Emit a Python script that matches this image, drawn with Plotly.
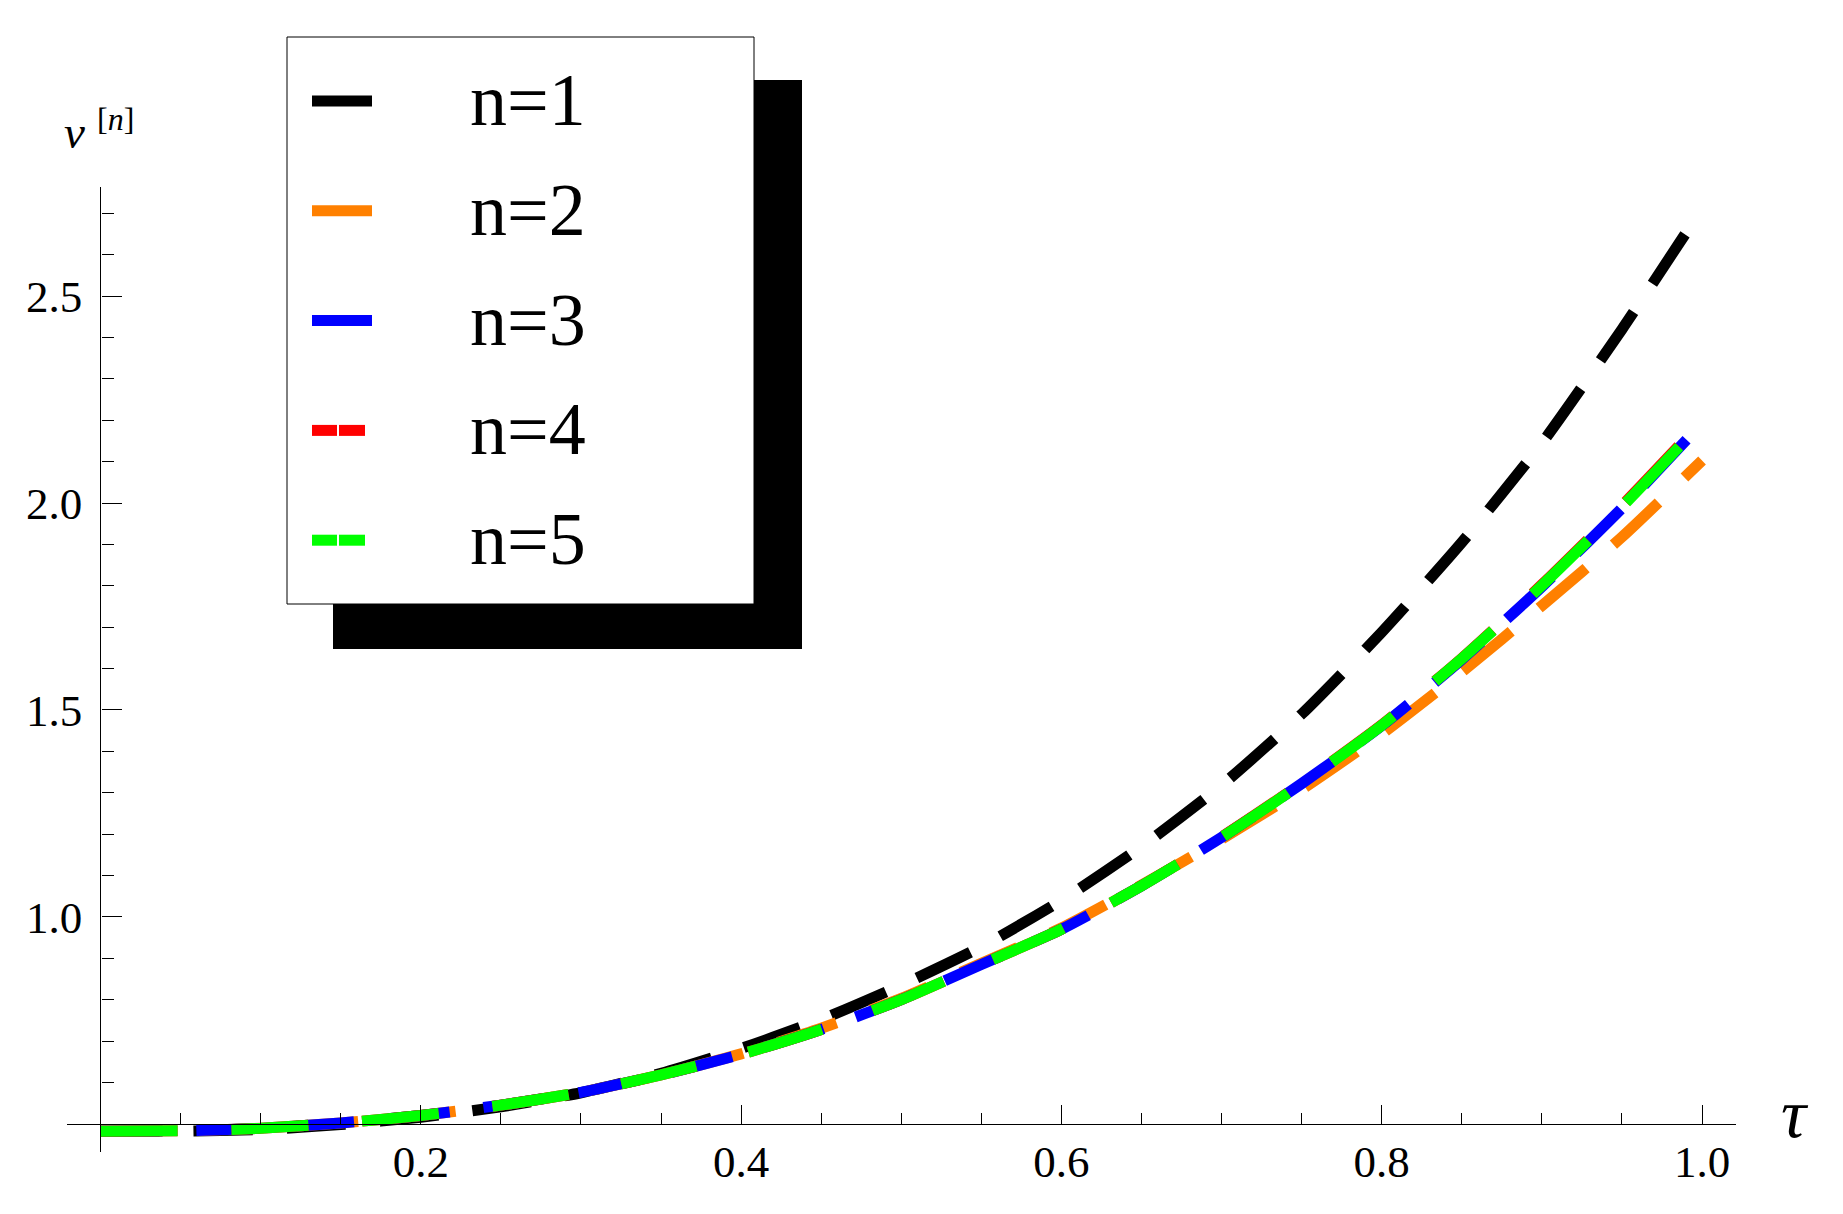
import plotly.graph_objects as go

# sample points
tau = [0.0, 0.05, 0.10, 0.15, 0.20, 0.25, 0.30, 0.35, 0.40, 0.45, 0.50,
       0.55, 0.60, 0.65, 0.70, 0.75, 0.80, 0.85, 0.90, 0.95, 1.00]

v_n1 = [0.482, 0.482, 0.486, 0.498, 0.516, 0.541, 0.575, 0.622, 0.682, 0.752, 0.835,
        0.928, 1.040, 1.170, 1.318, 1.490, 1.688, 1.905, 2.145, 2.420, 2.712]
v_n2 = [0.482, 0.483, 0.489, 0.502, 0.520, 0.545, 0.576, 0.618, 0.669, 0.731, 0.803,
        0.888, 0.973, 1.077, 1.188, 1.308, 1.442, 1.592, 1.752, 1.918, 2.103]
v_n3 = [0.482, 0.483, 0.489, 0.502, 0.520, 0.545, 0.576, 0.618, 0.668, 0.728, 0.800,
        0.885, 0.970, 1.075, 1.192, 1.322, 1.462, 1.622, 1.798, 1.988, 2.193]
v_n4 = [0.482, 0.483, 0.489, 0.502, 0.520, 0.545, 0.576, 0.618, 0.668, 0.728, 0.800,
        0.885, 0.970, 1.075, 1.193, 1.323, 1.464, 1.625, 1.803, 1.994, 2.198]
v_n5 = [0.482, 0.483, 0.489, 0.502, 0.520, 0.545, 0.576, 0.618, 0.668, 0.728, 0.800,
        0.885, 0.970, 1.075, 1.192, 1.322, 1.463, 1.624, 1.801, 1.991, 2.195]

series_names = ["n=1", "n=2", "n=3", "n=4", "n=5"]
series_values = [v_n1, v_n2, v_n3, v_n4, v_n5]
series_colors = ["#000000", "#ff8000", "#0000ff", "#ff0000", "#00ff00"]
series_dash = ["59px,34.2px", "62px,36px", "62px,34px", "77px,54px", "77px,54px"]
split_sample = [False, False, False, True, True]

x_tickvals = [0.2, 0.4, 0.6, 0.8, 1.0]
x_ticktext = ["0.2", "0.4", "0.6", "0.8", "1.0"]
x_minor = [0.05, 0.1, 0.15, 0.25, 0.3, 0.35, 0.45, 0.5, 0.55, 0.65, 0.7, 0.75, 0.85, 0.9, 0.95]
y_tickvals = [1.0, 1.5, 2.0, 2.5]
y_ticktext = ["1.0", "1.5", "2.0", "2.5"]
y_minor = [0.6, 0.7, 0.8, 0.9, 1.1, 1.2, 1.3, 1.4, 1.6, 1.7, 1.8, 1.9,
           2.1, 2.2, 2.3, 2.4, 2.6, 2.7]

X_RANGE = [-0.0209, 1.0212]
Y_RANGE = [0.4318, 2.7639]

#the page body adds 8px around the figure
OFF = 8
W, H = 1843 - OFF, 1214 - OFF
M_L, M_R, M_T, M_B = 59, 107, 179, 62
PW = W - M_L - M_R
PH = H - M_T - M_B

FONT = "'Liberation Serif', 'Times New Roman', Times, serif"


def px(x, y):
    """pixel position on the page -> paper coords"""
    return (x - OFF - M_L) / PW, (H - M_B - (y - OFF)) / PH


def label(x, y, text, size, xanchor="left"):
    ax, ay = px(x, y)
    return dict(x=ax, y=ay, xref="paper", yref="paper", xanchor=xanchor, yanchor="middle",
                text=text, showarrow=False, font=dict(family=FONT, size=size, color="black"))


fig = go.Figure()

for name, vals, color, dash in zip(series_names, series_values, series_colors, series_dash):
    fig.add_trace(go.Scatter(
        x=tau, y=vals,
        mode="lines",
        line=dict(color=color, width=11, dash=dash, shape="spline", smoothing=0.6),
        name=name,
        showlegend=False,
        hoverinfo="skip",
    ))

#legend box with drop shadow, drawn by hand
shapes = []
sx0, sy0 = px(333, 80)
sx1, sy1 = px(802, 649)
shapes.append(dict(type="rect", xref="paper", yref="paper", x0=sx0, y0=sy0, x1=sx1, y1=sy1,
                   fillcolor="black", line=dict(width=0), layer="above"))
bx0, by0 = px(287, 37)
bx1, by1 = px(754, 604)
shapes.append(dict(type="rect", xref="paper", yref="paper", x0=bx0, y0=by0, x1=bx1, y1=by1,
                   fillcolor="white", line=dict(color="black", width=1), layer="above"))

annotations = []
for i, (name, color, split) in enumerate(zip(series_names, series_colors, split_sample)):
    row_y = 101 + 109.8 * i
    segs = [(312, 337), (339, 365)] if split else [(312, 372)]
    for a, b in segs:
        x0, yy = px(a, row_y)
        x1, _ = px(b, row_y)
        shapes.append(dict(type="line", xref="paper", yref="paper", x0=x0, y0=yy, x1=x1, y1=yy,
                           line=dict(color=color, width=11), layer="above"))
    annotations.append(label(468, row_y - 1, name, 74))

#axis labels
annotations.append(label(62, 132, "<i>v</i>", 47))
annotations.append(label(95, 119, "[<i>n</i>]", 32))
annotations.append(label(1795, 1113, "<i>τ</i>", 70, xanchor="center"))

x_pos = (0.5 - Y_RANGE[0]) / (Y_RANGE[1] - Y_RANGE[0])
y_pos = (0.0 - X_RANGE[0]) / (X_RANGE[1] - X_RANGE[0])

fig.update_layout(
    width=W, height=H,
    margin=dict(l=M_L, r=M_R, t=M_T, b=M_B),
    paper_bgcolor="white",
    plot_bgcolor="white",
    showlegend=False,
    shapes=shapes,
    annotations=annotations,
    xaxis=dict(
        range=X_RANGE, anchor="free", position=x_pos,
        showgrid=False, zeroline=False,
        showline=True, linecolor="black", linewidth=1.2,
        ticks="inside", ticklen=19, tickwidth=1.2, tickcolor="black",
        tickmode="array", tickvals=x_tickvals, ticktext=x_ticktext,
        tickfont=dict(family=FONT, size=45, color="black"),
        ticklabelstandoff=-2,
        minor=dict(ticks="inside", ticklen=11, tickwidth=1.2, tickcolor="black",
                   tickmode="array", tickvals=x_minor, showgrid=False),
    ),
    yaxis=dict(
        range=Y_RANGE, anchor="free", position=y_pos,
        showgrid=False, zeroline=False,
        showline=True, linecolor="black", linewidth=1.2,
        ticks="inside", ticklen=20, tickwidth=1.2, tickcolor="black",
        tickmode="array", tickvals=y_tickvals, ticktext=y_ticktext,
        tickfont=dict(family=FONT, size=45, color="black"),
        ticklabelstandoff=9,
        minor=dict(ticks="inside", ticklen=12, tickwidth=1.2, tickcolor="black",
                   tickmode="array", tickvals=y_minor, showgrid=False),
    ),
)

fig.write_html("out.html")
